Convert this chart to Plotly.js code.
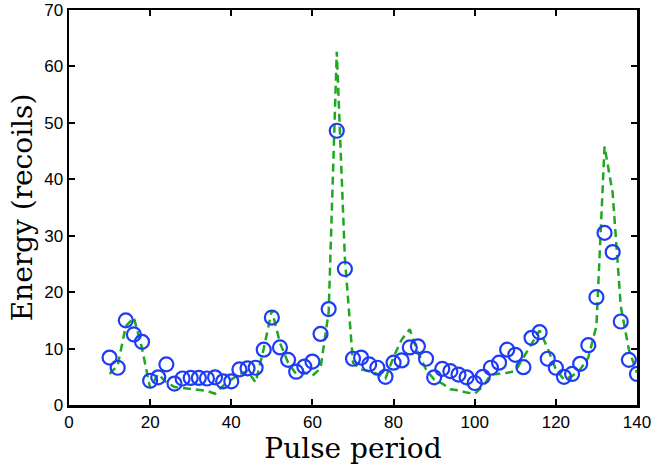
<!DOCTYPE html>
<html>
<head>
<meta charset="utf-8">
<script src="https://cdn.plot.ly/plotly-3.0.1.min.js"></script>
<style>
  html, body { margin: 0; padding: 0; background: #fff; }
  #plot { width: 664px; height: 468px; }
</style>
</head>
<body>
<div id="plot"></div>
<script>
// pulse periods (same grid for both series)
const period = [10, 12, 14, 16, 18, 20, 22, 24, 26, 28, 30, 32, 34, 36, 38, 40,
  42, 44, 46, 48, 50, 52, 54, 56, 58, 60, 62, 64, 66, 68, 70, 72, 74, 76, 78, 80,
  82, 84, 86, 88, 90, 92, 94, 96, 98, 100, 102, 104, 106, 108, 110, 112, 114, 116,
  118, 120, 122, 124, 126, 128, 130, 132, 134, 136, 138, 140];

// circles (measured)
const energy_circles = [8.4, 6.6, 15.0, 12.5, 11.2, 4.3, 4.9, 7.2, 3.8, 4.7, 4.8, 4.8,
  4.7, 4.9, 4.2, 4.2, 6.3, 6.5, 6.6, 9.8, 15.5, 10.2, 8.0, 5.9, 6.8, 7.7, 12.6, 17.0,
  48.6, 24.1, 8.2, 8.4, 7.2, 6.6, 5.0, 7.5, 7.9, 10.2, 10.4, 8.2, 4.9, 6.4, 6.0, 5.4,
  4.9, 3.9, 5.0, 6.6, 7.5, 9.8, 8.9, 6.7, 11.9, 12.9, 8.2, 6.6, 5.0, 5.5, 7.3, 10.6,
  19.1, 30.5, 27.1, 14.8, 8.0, 5.5];

// dashed line (model)
const energy_line = [5.5, 7.0, 14.0, 15.5, 10.0, 3.0, 5.5, 4.0, 3.2, 3.0, 2.8, 2.7,
  2.5, 2.0, 3.4, 4.5, 5.5, 6.0, 4.0, 10.0, 16.8, 11.0, 7.5, 5.5, 5.8, 5.2, 6.5, 16.5,
  62.6, 26.0, 7.5, 6.3, 6.0, 5.5, 4.7, 8.5, 11.6, 13.4, 9.3, 6.3, 4.5, 3.8, 2.8, 2.6,
  2.2, 2.0, 3.3, 5.4, 5.5, 5.7, 6.0, 8.4, 11.0, 13.2, 10.0, 6.3, 4.5, 5.1, 6.3, 8.4,
  14.0, 45.8, 37.6, 17.5, 9.8, 5.7];

const xticks = [0, 20, 40, 60, 80, 100, 120, 140];
const yticks = [0, 10, 20, 30, 40, 50, 60, 70];

var line_trace = {
    type: "scatter",
    mode: "lines",
    x: period,
    y: energy_line,
    line: {color: "#1fa81f", width: 2.5, dash: "8px,5px"},
    hoverinfo: "skip"
};

var circle_trace = {
    type: "scatter",
    mode: "markers",
    x: period,
    y: energy_circles,
    marker: {
        symbol: "circle-open",
        size: 14,
        color: "#1f3cf5",
        line: {color: "#1f3cf5", width: 2.2}
    }
};

var axis_common = {
    showline: true,
    linecolor: "#000",
    linewidth: 2.5,
    mirror: "ticks",
    ticks: "inside",
    ticklen: 6,
    tickwidth: 2,
    tickcolor: "#000",
    showgrid: false,
    zeroline: false,
    tickfont: {family: "Liberation Sans, Arial, sans-serif", size: 17, color: "#000"}
};

var title_font = {family: "DejaVu Serif, serif", size: 28, color: "#000"};

var layout = {
    width: 664,
    height: 468,
    margin: {l: 69, r: 27, t: 10, b: 63},
    paper_bgcolor: "#fff",
    plot_bgcolor: "#fff",
    showlegend: false,
    xaxis: Object.assign({}, axis_common, {
        range: [0, 140],
        tickvals: xticks,
        ticktext: xticks.map(String),
        title: {text: "Pulse period", standoff: 2, font: title_font}
    }),
    yaxis: Object.assign({}, axis_common, {
        range: [0, 70],
        tickvals: yticks,
        ticktext: yticks.map(String),
        title: {text: "Energy (recoils)", standoff: 4, font: title_font}
    })
};

Plotly.newPlot("plot", [line_trace, circle_trace], layout, {staticPlot: true, displayModeBar: false});
</script>
</body>
</html>
